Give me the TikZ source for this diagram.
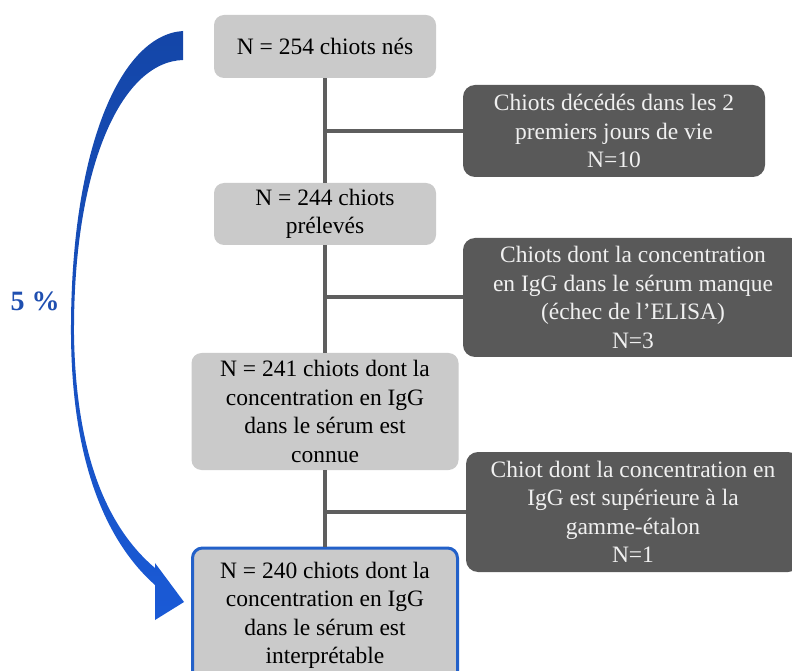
\documentclass[tikz,border=0pt]{standalone}
\usepackage{fontspec}
\setmainfont{Liberation Serif}
\usetikzlibrary{positioning,calc,shapes}
\definecolor{boxgray}{HTML}{CACACA}
\definecolor{darkgray}{HTML}{595959}
\definecolor{trunkgray}{HTML}{5E5E5E}
\definecolor{arrowtop}{HTML}{1446A8}
\definecolor{arrowbot}{HTML}{1A5AD6}
\definecolor{labelblue}{HTML}{1F4FB0}
\definecolor{borderblue}{HTML}{2361C9}

\begin{document}
\begin{tikzpicture}[x=1pt,y=1pt,
    txt/.style={align=center, inner sep=0pt, font=\fontsize{23.5}{28.5}\selectfont},
    lightbox/.style={txt, fill=boxgray, rounded corners=10pt},
    darkbox/.style={txt, fill=darkgray, text=white!94!black, rounded corners=12pt},
    link/.style={draw=trunkgray, line width=4pt}]
    \useasboundingbox (0,0) rectangle (792,670);

    % Main boxes
    \node[lightbox, minimum width=222pt, minimum height=63pt] (n254) at (325,623.5) {N = 254 chiots nés};
    \node[lightbox, minimum width=222pt, minimum height=62pt] (n244) at (325,456) {N = 244 chiots\\prélevés};
    \node[lightbox, minimum width=267pt, minimum height=117pt] (n241) at (325,258.5) {N = 241 chiots dont la\\concentration en IgG\\dans le sérum est\\connue};
    \node[lightbox, draw=borderblue, line width=3pt, minimum width=265pt, minimum height=135pt] (n240) at (325,54.5) {N = 240 chiots dont la\\concentration en IgG\\dans le sérum est\\interprétable};

    % Excluded boxes
    \node[darkbox, minimum width=302pt, minimum height=92pt] (dead) at (614,539) {Chiots décédés dans les 2\\premiers jours de vie\\N=10};
    \node[darkbox, minimum width=340pt, minimum height=119pt] (elisa) at (633,372.5) {Chiots dont la concentration\\en IgG dans le sérum manque\\(échec de l’ELISA)\\N=3};
    \node[darkbox, minimum width=334pt, minimum height=120pt] (above) at (633,158) {Chiot dont la concentration en\\IgG est supérieure à la\\gamme-étalon\\N=1};

    % Trunk and branches
    \draw[link] (n254.south) -- (n244.north);
    \draw[link] (n244.south) -- (n241.north);
    \draw[link] (n241.south) -- (n240.north);
    \draw[link] (dead.west) -- (dead.west -| n254.south);
    \draw[link] (elisa.west) -- (elisa.west -| n254.south);
    \draw[link] (above.west) -- (above.west -| n254.south);

    % Curved arrow
    \shade[top color=arrowtop, bottom color=arrowbot]
        (183,639) .. controls (120,635) and (70,520) .. (71,335)
        .. controls (72,200) and (110,125) .. (155,85)
        -- (155,50) -- (184,68) -- (155,107) -- (155,102)
        .. controls (110,140) and (76,210) .. (74,335)
        .. controls (73,500) and (120,608) .. (183,610) -- cycle;
    \node[txt, font=\fontsize{28}{30}\selectfont\bfseries, text=labelblue] (pct) at (35,369) {5 \%};
\end{tikzpicture}
\end{document}
